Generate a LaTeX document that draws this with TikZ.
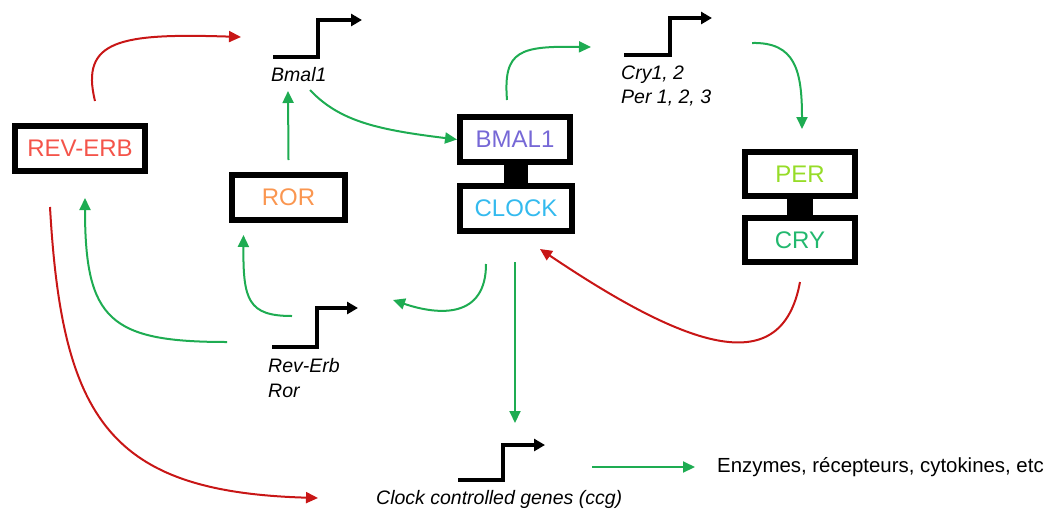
\documentclass[tikz,border=0pt]{standalone}
\usepackage{fontspec}
\setmainfont{Liberation Sans}
\usetikzlibrary{arrows.meta}
\definecolor{actgreen}{RGB}{30,172,82}
\definecolor{repred}{RGB}{200,22,22}
\definecolor{reverbcol}{RGB}{244,84,74}
\definecolor{rorcol}{RGB}{250,150,80}
\definecolor{bmalcol}{RGB}{118,104,214}
\definecolor{clockcol}{RGB}{52,186,238}
\definecolor{percol}{RGB}{150,220,40}
\definecolor{crycol}{RGB}{34,184,110}
\begin{document}
\begin{tikzpicture}[x=1pt,y=-1pt,
  protbox/.style={draw=black, line width=6pt, inner sep=0pt, minimum height=45pt,
    font=\fontsize{24}{26}\selectfont},
  genelabel/.style={font=\fontsize{19.5}{22}\selectfont\itshape, anchor=west, inner sep=0pt, align=left},
  promoter/.style={draw=black, line width=4pt, miter limit=10,
    -{Triangle[length=11pt,width=12pt]}},
  act/.style={draw=actgreen, line width=2pt, -{Triangle[length=12pt,width=11pt]}},
  rep/.style={draw=repred, line width=2pt, -{Triangle[length=12pt,width=11pt]}},
  bridge/.style={fill=black}
]
\useasboundingbox (0,0) rectangle (1049,512);

% protein boxes
\node[protbox, minimum width=130pt, text=reverbcol] (rev) at (80,148.5) {REV-ERB};
\node[protbox, minimum width=113pt, text=rorcol] (ror) at (288.5,197.5) {ROR};
\node[protbox, minimum width=110pt, text=bmalcol] (bmal) at (515,139.5) {BMAL1};
\node[protbox, minimum width=112pt, text=clockcol] (clock) at (516,208.5) {CLOCK};
\node[protbox, minimum width=110pt, minimum height=44pt, text=percol] (per) at (800,174) {PER};
\node[protbox, minimum width=110pt, minimum height=44pt, text=crycol] (cry) at (800,240) {CRY};

% heterodimer links
\fill[bridge] ([xshift=-11.5pt]bmal.south) rectangle ([xshift=11.5pt]clock.north);
\fill[bridge] ([xshift=-13pt]per.south) rectangle ([xshift=13pt]cry.north);

% promoters
\draw[promoter] (273,57) -- (318,57) -- (318,20) -- (362,20);
\draw[promoter] (624,55) -- (670,55) -- (670,18) -- (712,18);
\draw[promoter] (272,347) -- (317,347) -- (317,308) -- (358,308);
\draw[promoter] (458,480) -- (503,480) -- (503,445) -- (545,445);

% gene labels
\node[genelabel] (lbmal) at (271,75) {Bmal1};
\node[genelabel] (lcry) at (621,75) {Cry1, 2};
\node[genelabel] (lper) at (621,98) {Per 1, 2, 3};
\node[genelabel] (lrev) at (268,366) {Rev-Erb};
\node[genelabel] (lror) at (268,391) {Ror};
\node[genelabel] (lccg) at (376,499) {Clock controlled genes (ccg)};
\node[font=\fontsize{20.4}{24}\selectfont, anchor=west, inner sep=0pt] (enz) at (717,467) {Enzymes, récepteurs, cytokines, etc};

% arrow end points at the genes
\coordinate (toBmal) at (241,37);
\coordinate (toBmalUp) at (288,91);
\coordinate (toCry) at (591,47);
\coordinate (toPer) at (802,129);
\coordinate (toRevRorL) at (393,300);
\coordinate (toCcg) at (515,423);
\coordinate (toCcgRed) at (318,498);
\coordinate (ccgOut) at (592,467);

% activations
\draw[act] ([yshift=12pt]ror.north) -- (toBmalUp);
\draw[act] (310,90) .. controls (340,122) and (380,130) .. (bmal.west);
\draw[act] ([xshift=-8pt,yshift=14pt]bmal.north) .. controls (503,50) and (520,46) .. (toCry);
\draw[act] (752,43) .. controls (795,42) and (802,70) .. (toPer);
\draw[act] ([xshift=-30pt,yshift=-30pt]clock.south) .. controls (486,318) and (440,316) .. (toRevRorL);
\draw[act] ([xshift=-1pt,yshift=-28pt]clock.south) -- (toCcg);
\draw[act] (292,316) .. controls (248,316) and (243,300) .. ([xshift=-45pt,yshift=-12pt]ror.south);
\draw[act] (227,342) .. controls (110,342) and (85,320) .. ([xshift=5pt,yshift=-24pt]rev.south);
\draw[act] (ccgOut) -- (enz.west -| 695,0);

% repressions
\draw[rep] ([xshift=15pt,yshift=22pt]rev.north) .. controls (80,40) and (120,33) .. (toBmal);
\draw[rep] ([xshift=-30pt,yshift=-33pt]rev.south) .. controls (62,420) and (110,492) .. (toCcgRed);
\draw[rep] ([yshift=-17pt]cry.south) .. controls (782,380) and (690,350) .. ([xshift=24pt,yshift=-15pt]clock.south);
\end{tikzpicture}
\end{document}
